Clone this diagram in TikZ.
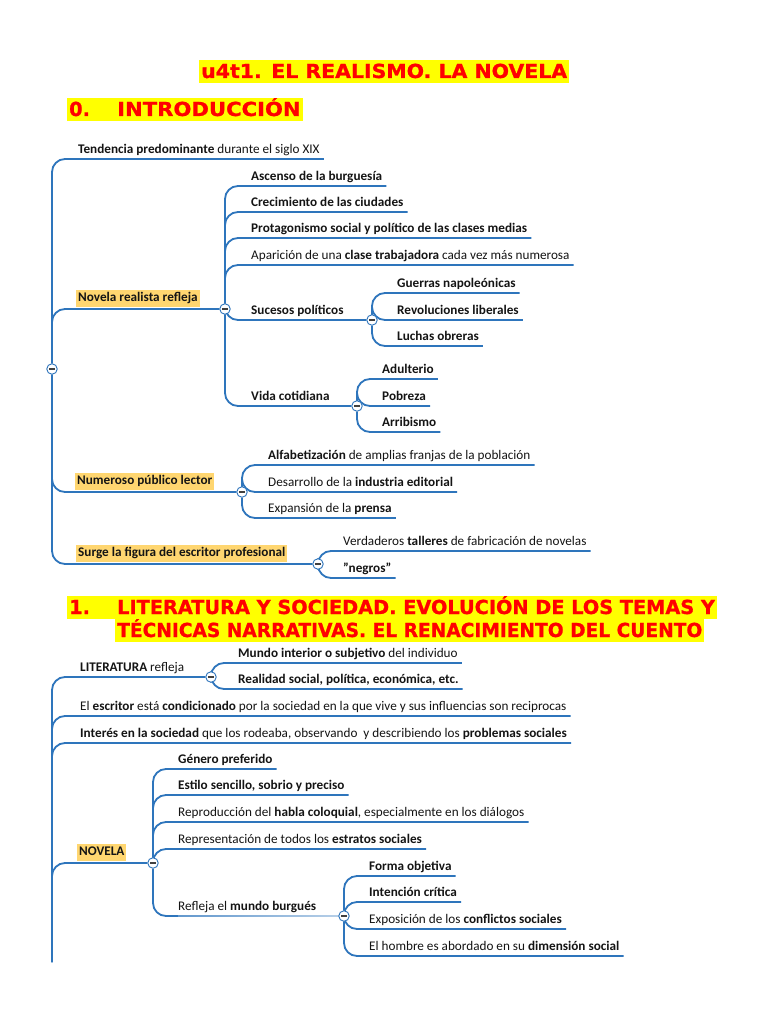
\documentclass[tikz,border=0pt]{standalone}
\usepackage{fontspec}
\setmainfont{Carlito}
\newfontfamily\titlefont{DejaVu Sans}[FakeBold=1.0]
\usetikzlibrary{calc}
\pgfdeclarelayer{fg}
\pgfsetlayers{main,fg}
\definecolor{lineblue}{RGB}{46,117,188}
\definecolor{hlorange}{RGB}{255,214,112}
\definecolor{titlered}{RGB}{255,0,0}
\definecolor{titleyellow}{RGB}{255,255,0}
\definecolor{txt}{RGB}{20,20,20}
\newcommand\mmfont{\fontsize{13.2}{15}\selectfont}
\newcommand\ttlfont{\titlefont\bfseries\fontsize{19.3}{22}\selectfont}
\tikzset{
  conn/.style={draw=lineblue, line width=1.8pt, rounded corners=13pt},
  leaf/.style={anchor=south west, inner xsep=4pt, inner ysep=5.5pt, text depth=0pt, font=\mmfont, text=txt},
  hl/.style={anchor=south west, fill=hlorange, inner xsep=2pt, inner ysep=1.5pt, text height=10pt, text depth=3.5pt, font=\mmfont\bfseries, text=txt},
  circ/.style={circle, draw=lineblue, line width=0.9pt, fill=white, minimum size=10.5pt, inner sep=0pt,
    path picture={\draw[line width=1.2pt, black!75] ($(path picture bounding box.center)+(-2.8pt,0)$) -- ($(path picture bounding box.center)+(2.8pt,0)$);}},
  ttl/.style={anchor=base west, fill=titleyellow, text=titlered, font=\ttlfont, inner xsep=2pt, inner ysep=0pt, text height=18pt, text depth=5pt},
}
\begin{document}
\begin{tikzpicture}[x=1pt, y=-1pt]
\fill[white] (0,0) rectangle (768,1024);
\useasboundingbox (0,0) rectangle (768,1024);

% ---------- titles ----------
\node[ttl] (title) at (199,78) {\addfontfeatures{FakeStretch=1.06}u4t1. EL REALISMO. LA NOVELA};
\node[ttl] (intro) at (67,116) {\makebox[48pt][l]{0.}\addfontfeatures{FakeStretch=1.095}INTRODUCCIÓN};
\node[ttl] (sec1a) at (67,614) {\makebox[48pt][l]{1.}LITERATURA Y SOCIEDAD. EVOLUCIÓN DE LOS TEMAS Y};
\node[ttl] (sec1b) at (115,637) {\addfontfeatures{FakeStretch=0.965}TÉCNICAS NARRATIVAS. EL RENACIMIENTO DEL CUENTO};

% ---------- circles (foreground) ----------
\begin{pgfonlayer}{fg}
  \node[circ] (r0) at (52,369) {};
  \node[circ] (c1) at (225,309) {};
  \node[circ] (c11) at (372,320) {};
  \node[circ] (c12) at (357,406) {};
  \node[circ] (c2) at (242,492) {};
  \node[circ] (c3) at (318,564) {};
  \node[circ] (c4) at (211,677) {};
  \node[circ] (c5) at (153,863) {};
  \node[circ] (c51) at (344,916) {};
\end{pgfonlayer}
\coordinate (r1) at (52,962);

% ---------- section 0 nodes ----------
\node[leaf] (t0) at (74,159) {\textbf{Tendencia predominante} durante el siglo XIX};
\node[hl] (n1) at (76,307) {Novela realista refleja};
\node[leaf] (a1) at (247,186) {\textbf{Ascenso de la burguesía}};
\node[leaf] (a2) at (247,212) {\textbf{Crecimiento de las ciudades}};
\node[leaf] (a3) at (247,238) {\textbf{Protagonismo social y político de las clases medias}};
\node[leaf] (a4) at (247,265) {Aparición de una \textbf{clase trabajadora} cada vez más numerosa};
\node[leaf] (a5) at (247,320) {\textbf{Sucesos políticos}};
\node[leaf] (g1) at (393,293) {\textbf{Guerras napoleónicas}};
\node[leaf] (g2) at (393,320) {\textbf{Revoluciones liberales}};
\node[leaf] (g3) at (393,346) {\textbf{Luchas obreras}};
\node[leaf] (a6) at (247,406) {\textbf{Vida cotidiana}};
\node[leaf] (v1) at (378,379) {\textbf{Adulterio}};
\node[leaf] (v2) at (378,406) {\textbf{Pobreza}};
\node[leaf] (v3) at (378,432) {\textbf{Arribismo}};
\node[hl] (n2) at (75,490) {Numeroso público lector};
\node[leaf] (p1) at (264,465) {\textbf{Alfabetización} de amplias franjas de la población};
\node[leaf] (p2) at (264,492) {Desarrollo de la \textbf{industria editorial}};
\node[leaf] (p3) at (264,518) {Expansión de la \textbf{prensa}};
\node[hl] (n3) at (76,562) {Surge la figura del escritor profesional};
\node[leaf] (w1) at (339,551) {Verdaderos \textbf{talleres} de fabricación de novelas};
\node[leaf] (w2) at (339,578) {\textbf{\char34 negros\char34}};

% ---------- section 1 nodes ----------
\node[leaf] (l0) at (76,677) {\textbf{LITERATURA} refleja};
\node[leaf] (m1) at (234,663) {\textbf{Mundo interior o subjetivo} del individuo};
\node[leaf] (m2) at (234,689) {\textbf{Realidad social, política, económica, etc.}};
\node[leaf] (e1) at (76,716) {El \textbf{escritor} está \textbf{condicionado} por la sociedad en la que vive y sus influencias son reciprocas};
\node[leaf] (e2) at (76,743) {\textbf{Interés en la sociedad} que los rodeaba, observando~ y describiendo los \textbf{problemas sociales}};
\node[hl] (n4) at (77,861) {NOVELA};
\node[leaf] (q1) at (174,769) {\textbf{Género preferido}};
\node[leaf] (q2) at (174,795) {\textbf{Estilo sencillo, sobrio y preciso}};
\node[leaf] (q3) at (174,822) {Reproducción del \textbf{habla coloquial}, especialmente en los diálogos};
\node[leaf] (q4) at (174,849) {Representación de todos los \textbf{estratos sociales}};
\node[leaf] (q5) at (174,916) {Refleja el \textbf{mundo burgués}};
\node[leaf] (f1) at (365,876) {\textbf{Forma objetiva}};
\node[leaf] (f2) at (365,902) {\textbf{Intención crítica}};
\node[leaf] (f3) at (365,929) {Exposición de los \textbf{conflictos sociales}};
\node[leaf] (f4) at (365,956) {El hombre es abordado en su \textbf{dimensión social}};

% ---------- connectors section 0 ----------
\draw[conn] (r0) |- (t0.south east);
\draw[conn] (r0) |- (c1);
\draw[conn] (r0) |- (c2);
\draw[conn] (r0) |- (c3);
\foreach \k in {a1,a2,a3,a4} \draw[conn] (c1) |- (\k.south east);
\draw[conn] (c1) |- (c11);
\draw[conn] (c1) |- (c12);
\foreach \k in {g1,g2,g3} \draw[conn] (c11) |- (\k.south east);
\foreach \k in {v1,v2,v3} \draw[conn] (c12) |- (\k.south east);
\foreach \k in {p1,p2,p3} \draw[conn] (c2) |- (\k.south east);
\foreach \k in {w1,w2} \draw[conn] (c3) |- (\k.south east);

% ---------- connectors section 1 ----------
\draw[conn] (r1) |- (c4);
\draw[conn] (r1) |- (e1.south east);
\draw[conn] (r1) |- (e2.south east);
\draw[conn] (r1) |- (c5);
\foreach \k in {m1,m2} \draw[conn] (c4) |- (\k.south east);
\foreach \k in {q1,q2,q3,q4} \draw[conn] (c5) |- (\k.south east);
\draw[conn] (c5) |- (c51);
% lighter, fading underline of "Refleja el mundo burgues"
\shade[left color=lineblue!75, right color=lineblue!35]
  ($(q5.south west)+(4,-0.9)$) rectangle ($(c51.west)+(0,0.9)$);
\foreach \k in {f1,f2,f3,f4} \draw[conn] (c51) |- (\k.south east);
\end{tikzpicture}
\end{document}
